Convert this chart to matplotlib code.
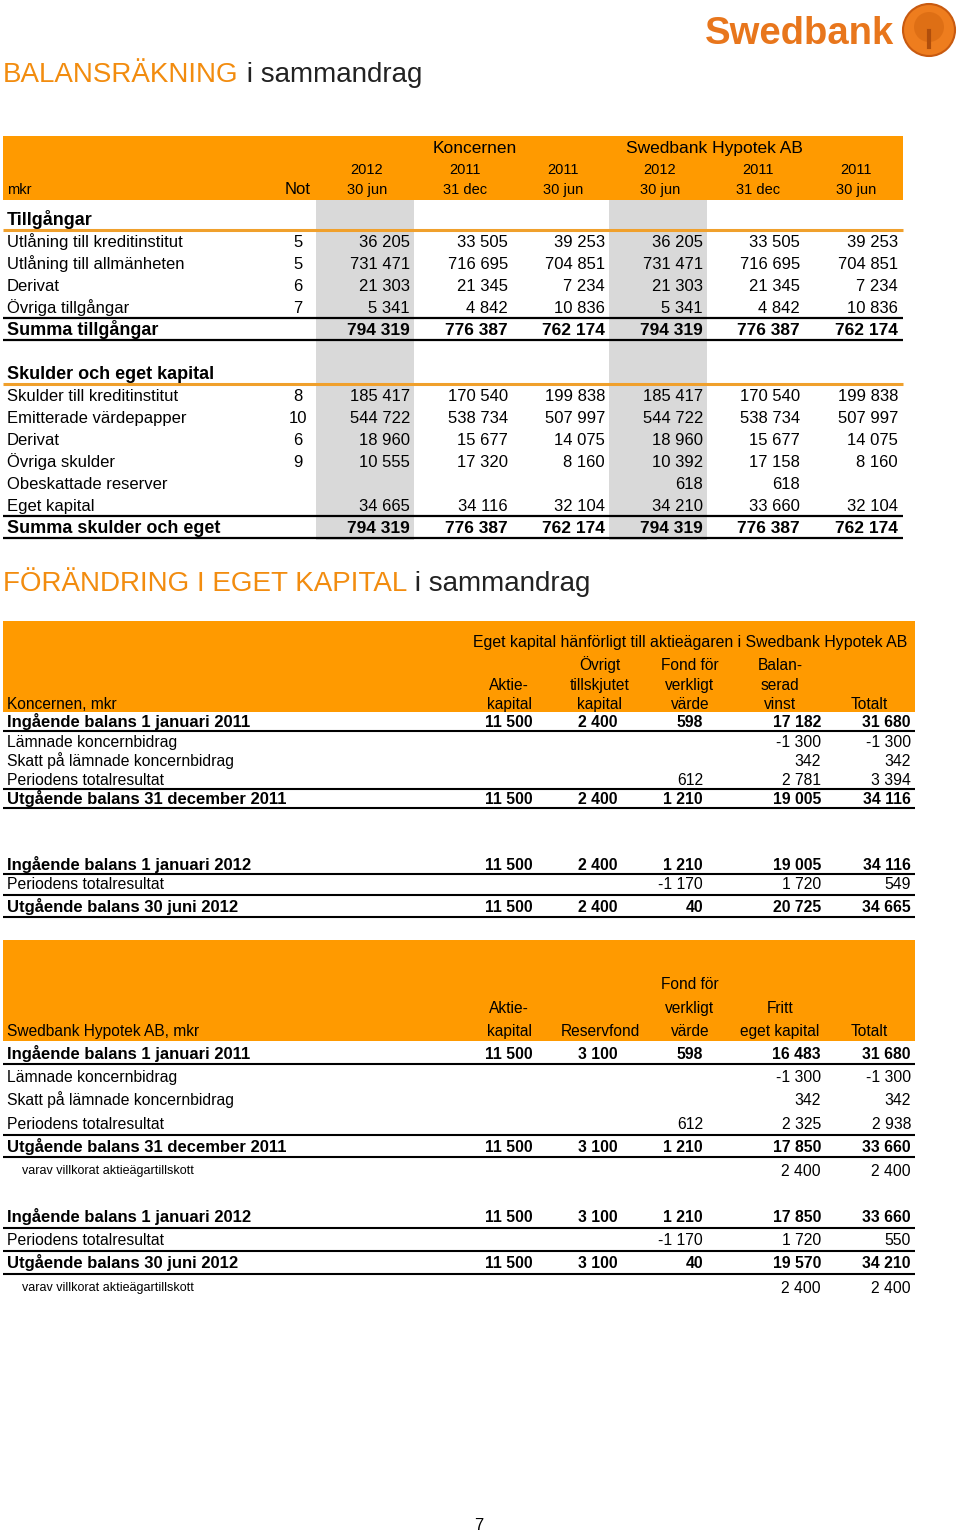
import matplotlib
matplotlib.use("Agg")
import matplotlib.pyplot as plt
from matplotlib.patches import Rectangle, Circle

plt.rcParams['font.family'] = ['Liberation Sans', 'DejaVu Sans']

# ---------------- DATA ----------------
title1_a = "BALANSRÄKNING"
title1_b = " i sammandrag"
title2_a = "FÖRÄNDRING I EGET KAPITAL"
title2_b = " i sammandrag"

bal_groups = ["Koncernen", "Swedbank Hypotek AB"]
bal_years = ["2012", "2011", "2011", "2012", "2011", "2011"]
bal_dates = ["30 jun", "31 dec", "30 jun", "30 jun", "31 dec", "30 jun"]

assets_labels = ["Utlåning till kreditinstitut", "Utlåning till allmänheten", "Derivat",
                 "Övriga tillgångar"]
assets_notes = ["5", "5", "6", "7"]
assets_values = [
    [36205, 33505, 39253, 36205, 33505, 39253],
    [731471, 716695, 704851, 731471, 716695, 704851],
    [21303, 21345, 7234, 21303, 21345, 7234],
    [5341, 4842, 10836, 5341, 4842, 10836],
]
assets_total = [794319, 776387, 762174, 794319, 776387, 762174]

liab_labels = ["Skulder till kreditinstitut", "Emitterade värdepapper", "Derivat",
               "Övriga skulder", "Obeskattade reserver", "Eget kapital"]
liab_notes = ["8", "10", "6", "9", "", ""]
liab_values = [
    [185417, 170540, 199838, 185417, 170540, 199838],
    [544722, 538734, 507997, 544722, 538734, 507997],
    [18960, 15677, 14075, 18960, 15677, 14075],
    [10555, 17320, 8160, 10392, 17158, 8160],
    [None, None, None, 618, 618, None],
    [34665, 34116, 32104, 34210, 33660, 32104],
]
liab_total = [794319, 776387, 762174, 794319, 776387, 762174]

# Equity - Koncernen
eq1_super = "Eget kapital hänförligt till aktieägaren i Swedbank Hypotek AB"
eq1_headers = [["", "Aktie-", "kapital"], ["Övrigt", "tillskjutet", "kapital"],
               ["Fond för", "verkligt", "värde"], ["Balan-", "serad", "vinst"],
               ["", "", "Totalt"]]
eq1_labels = ["Ingående balans 1 januari 2011", "Lämnade koncernbidrag",
              "Skatt på lämnade koncernbidrag", "Periodens totalresultat",
              "Utgående balans 31 december 2011",
              "Ingående balans 1 januari 2012", "Periodens totalresultat",
              "Utgående balans 30 juni 2012"]
eq1_values = [
    [11500, 2400, 598, 17182, 31680],
    [None, None, None, -1300, -1300],
    [None, None, None, 342, 342],
    [None, None, 612, 2781, 3394],
    [11500, 2400, 1210, 19005, 34116],
    [11500, 2400, 1210, 19005, 34116],
    [None, None, -1170, 1720, 549],
    [11500, 2400, 40, 20725, 34665],
]
eq1_bold = [True, False, False, False, True, True, False, True]

# Equity - Swedbank Hypotek AB
eq2_headers = [["", "Aktie-", "kapital"], ["", "", "Reservfond"],
               ["Fond för", "verkligt", "värde"], ["", "Fritt", "eget kapital"],
               ["", "", "Totalt"]]
eq2_labels = ["Ingående balans 1 januari 2011", "Lämnade koncernbidrag",
              "Skatt på lämnade koncernbidrag", "Periodens totalresultat",
              "Utgående balans 31 december 2011", "varav villkorat aktieägartillskott",
              "Ingående balans 1 januari 2012", "Periodens totalresultat",
              "Utgående balans 30 juni 2012", "varav villkorat aktieägartillskott"]
eq2_values = [
    [11500, 3100, 598, 16483, 31680],
    [None, None, None, -1300, -1300],
    [None, None, None, 342, 342],
    [None, None, 612, 2325, 2938],
    [11500, 3100, 1210, 17850, 33660],
    [None, None, None, 2400, 2400],
    [11500, 3100, 1210, 17850, 33660],
    [None, None, -1170, 1720, 550],
    [11500, 3100, 40, 19570, 34210],
    [None, None, None, 2400, 2400],
]
eq2_bold = [True, False, False, False, True, False, True, False, True, False]
eq2_small = [False, False, False, False, False, True, False, False, False, True]

page_number = "7"

# ---------------- STYLE / LAYOUT ----------------
ORANGE = "#FF9A00"
TITLE_OR = "#F28C0F"
LINE_OR = "#F0A02C"
GRAY = "#D9D9D9"
TXT = "#000000"

W, H = 960, 1533
fig = plt.figure(figsize=(W / 100, H / 100), dpi=100)
ax = fig.add_axes([0, 0, 1, 1])
ax.set_xlim(0, W)
ax.set_ylim(H, 0)
ax.axis("off")


def fmt(v):
    if v is None:
        return ""
    return f"{v:,}".replace(",", " ")


def hline(y, x0, x1, color="black", lw=1.4):
    ax.plot([x0, x1], [y, y], color=color, lw=lw, solid_capstyle="butt")


def txt(x, y, s, size=12, ha="left", weight="normal", color=TXT, **kw):
    # y is the visual centre of capital letters; place baseline accordingly
    base = y + 0.358 * size * 100 / 72
    return ax.text(x, base, s, fontsize=size, ha=ha, va="baseline", fontweight=weight,
                   color=color, **kw)


# Logo
txt(799, 30, "Swedbank", size=27.5, ha="center", weight="bold", color="#E8761C")
ax.add_patch(Circle((929, 30), 26, facecolor="#EE7D1E", edgecolor="#C85A10", lw=1.5))
ax.add_patch(Circle((929, 27), 15, facecolor="#D86A12", edgecolor="none", alpha=0.7))
ax.plot([929, 929], [31, 47], color="#B04E0C", lw=3)

# Title 1
t = txt(3, 72, title1_a, size=20, color=TITLE_OR)
fig.canvas.draw()
bb = t.get_window_extent()
ax.text(bb.x1, H - (72 + 0.358 * 20 * 100 / 72), title1_b, fontsize=20, color="#222222",
        ha="left", va="baseline", transform=None)

# ---- Table 1 ----
T1_X0, T1_X1 = 3, 903
col_r = [410, 508, 605, 703, 800, 898]
col_c = [367, 465, 563, 660, 758, 856]
gray_cols = [(316, 414), (609, 707)]
ax.add_patch(Rectangle((T1_X0, 136), T1_X1 - T1_X0, 64, facecolor=ORANGE, edgecolor="none"))
for (a, b) in gray_cols:
    ax.add_patch(Rectangle((a, 200), b - a, 340, facecolor=GRAY, edgecolor="none", zorder=0))
txt(475, 147, bal_groups[0], size=12.5, ha="center")
txt(714, 147, bal_groups[1], size=12.5, ha="center")
for c, yr, dt in zip(col_c, bal_years, bal_dates):
    txt(c, 169, yr, size=10.5, ha="center")
    txt(c, 189, dt, size=10.5, ha="center")
txt(7, 189, "mkr", size=10.5)
txt(298, 188, "Not", size=12, ha="center")

ROW = 22
NOTE_X = 298


def bal_section(y0, header, labels, notes, values, total_label, total):
    txt(7, y0, header, size=13, weight="bold")
    hline(y0 + 11, T1_X0, T1_X1, color=LINE_OR, lw=2.2)
    y = y0 + ROW
    for lab, note, vals in zip(labels, notes, values):
        txt(7, y, lab, size=12)
        txt(NOTE_X, y, note, size=12, ha="center")
        for r, v in zip(col_r, vals):
            txt(r, y, fmt(v), size=12, ha="right")
        y += ROW
    hline(y - 11, T1_X0, T1_X1, lw=1.6)
    txt(7, y, total_label, size=13, weight="bold")
    for r, v in zip(col_r, total):
        txt(r, y, fmt(v), size=12.5, ha="right", weight="bold")
    hline(y + 11, T1_X0, T1_X1, lw=1.6)


bal_section(219, "Tillgångar", assets_labels, assets_notes, assets_values,
            "Summa tillgångar", assets_total)
bal_section(373, "Skulder och eget kapital", liab_labels, liab_notes, liab_values,
            "Summa skulder och eget", liab_total)

# Title 2
t2 = txt(3, 581, title2_a, size=20, color=TITLE_OR)
fig.canvas.draw()
bb2 = t2.get_window_extent()
ax.text(bb2.x1, H - (581 + 0.358 * 20 * 100 / 72), title2_b, fontsize=20, color="#222222",
        ha="left", va="baseline", transform=None)

# ---- Equity tables ----
E_X0, E_X1 = 3, 915
e_r = [533, 618, 703, 821, 911]
e_c = [509, 600, 690, 780, 869]

# Table 2 (Koncernen)
ax.add_patch(Rectangle((E_X0, 621), E_X1 - E_X0, 91, facecolor=ORANGE, edgecolor="none"))
txt(690, 641, eq1_super, size=11.4, ha="center")
for c, lines in zip(e_c, eq1_headers):
    for yy, s in zip([664, 684, 703], lines):
        txt(c, yy, s, size=11.2, ha="center")
txt(7, 703, "Koncernen, mkr", size=11.2)

ys = [721, 741, 760, 779, 798, 864, 883, 906]
for y, lab, vals, b in zip(ys, eq1_labels, eq1_values, eq1_bold):
    w = "bold" if b else "normal"
    txt(7, y, lab, size=12 if b else 11.3, weight=w)
    for r, v in zip(e_r, vals):
        txt(r, y, fmt(v), size=11.3, ha="right", weight=w)
for yl in [731, 789, 808, 874, 895, 917]:
    hline(yl, E_X0, E_X1, lw=1.5)

# Table 3 (Swedbank Hypotek AB)
ax.add_patch(Rectangle((E_X0, 940), E_X1 - E_X0, 101, facecolor=ORANGE, edgecolor="none"))
for c, lines in zip(e_c, eq2_headers):
    for yy, s in zip([983, 1007, 1030], lines):
        txt(c, yy, s, size=11.2, ha="center")
txt(7, 1030, "Swedbank Hypotek AB, mkr", size=11.2)

ys3 = [1053, 1076, 1099, 1123, 1146, 1170, 1216, 1239, 1262, 1287]
for y, lab, vals, b, sm in zip(ys3, eq2_labels, eq2_values, eq2_bold, eq2_small):
    w = "bold" if b else "normal"
    if sm:
        txt(22, y, lab, size=9)
    else:
        txt(7, y, lab, size=12 if b else 11.3, weight=w)
    for r, v in zip(e_r, vals):
        txt(r, y, fmt(v), size=11.3, ha="right", weight=w)
for yl in [1064, 1135, 1157, 1228, 1251, 1274]:
    hline(yl, E_X0, E_X1, lw=1.5)

# Page number
txt(479, 1524, page_number, size=12, ha="center")

fig.savefig("out.png", dpi=100)
